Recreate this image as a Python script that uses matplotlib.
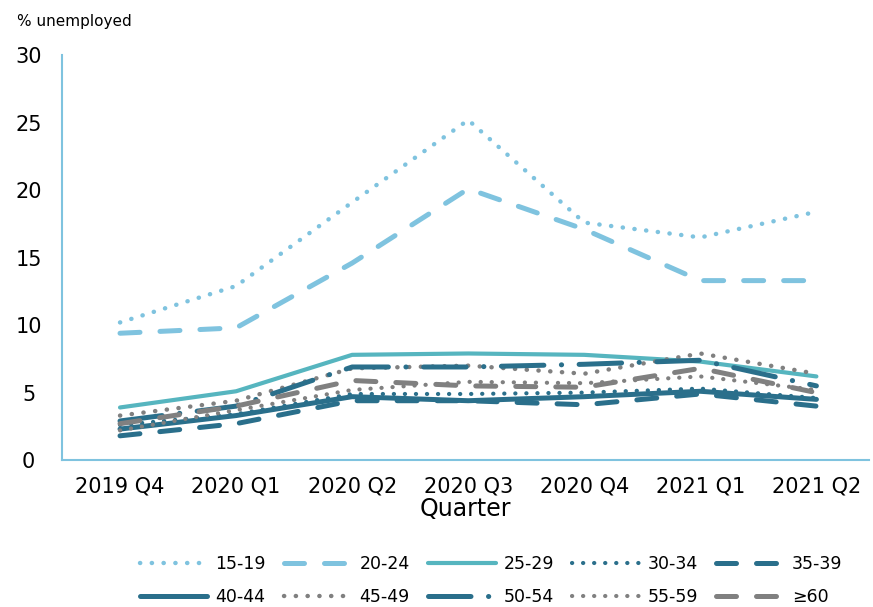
import matplotlib
matplotlib.use("Agg")
import matplotlib.pyplot as plt
import numpy as np

quarters = ['2019 Q4', '2020 Q1', '2020 Q2', '2020 Q3', '2020 Q4', '2021 Q1', '2021 Q2']
age_groups = ['15-19', '20-24', '25-29', '30-34', '35-39',
              '40-44', '45-49', '50-54', '55-59', '\u226560']

u_15_19 = [10.2, 12.9, 19.1, 25.2, 17.6, 16.5, 18.4]
u_20_24 = [9.4, 9.8, 14.6, 20.1, 17.1, 13.3, 13.3]
u_25_29 = [3.9, 5.1, 7.8, 7.9, 7.8, 7.3, 6.2]
u_30_34 = [2.6, 3.4, 4.9, 4.9, 5.0, 5.3, 4.6]
u_35_39 = [1.8, 2.7, 4.4, 4.4, 4.1, 4.9, 4.0]
u_40_44 = [2.3, 3.3, 4.7, 4.4, 4.7, 5.1, 4.5]
u_45_49 = [3.3, 4.4, 6.8, 7.0, 6.4, 7.9, 6.4]
u_50_54 = [2.9, 4.0, 6.9, 6.9, 7.1, 7.4, 5.5]
u_55_59 = [2.2, 3.7, 5.2, 5.8, 5.7, 6.2, 5.2]
u_60_up = [2.7, 4.0, 5.9, 5.5, 5.4, 6.8, 5.0]

series = [u_15_19, u_20_24, u_25_29, u_30_34, u_35_39,
          u_40_44, u_45_49, u_50_54, u_55_59, u_60_up]

light = '#7fc3df'
teal = '#56b5bf'
dark = '#2a6f8b'
grey = '#808080'

dot = (0, (0.05, 2.6))
styles = [
    (light, dot, 3.2),
    (light, (0, (4, 4)), 3.6),
    (teal, '-', 3.0),
    (dark, dot, 3.0),
    (dark, (0, (4, 4)), 3.6),
    (dark, '-', 3.6),
    (grey, dot, 3.2),
    (dark, (0, (8.5, 3.5, 0.05, 3.5)), 3.6),
    (grey, dot, 3.0),
    (grey, (0, (4, 4)), 3.6),
]

fig = plt.figure(figsize=(8.73, 6.07), dpi=100)
ax = fig.add_axes([0.071, 0.242, 0.924, 0.667])

x = np.arange(len(quarters))
handles = []
for vals, lab, (c, ls, lw) in zip(series, age_groups, styles):
    h, = ax.plot(x, vals, color=c, linestyle=ls, linewidth=lw, label=lab,
                 dash_capstyle='round', solid_capstyle='round')
    handles.append(h)

ax.set_xlim(-0.5, 6.45)
ax.set_ylim(0, 30)
ax.set_yticks(range(0, 31, 5))
ax.set_xticks(x)
ax.set_xticklabels(quarters)
ax.tick_params(length=0, labelsize=15)
ax.tick_params(axis='y', pad=24)
for t in ax.get_yticklabels():
    t.set_horizontalalignment('center')
ax.tick_params(axis='x', pad=12)
ax.set_xlabel('Quarter', fontsize=17, labelpad=0)

for s in ['top', 'right']:
    ax.spines[s].set_visible(False)
for s in ['left', 'bottom']:
    ax.spines[s].set_color(light)
    ax.spines[s].set_linewidth(1.5)

fig.text(0.02, 0.965, '% unemployed', fontsize=11, va='center')

# legend filled row by row
order = [0, 5, 1, 6, 2, 7, 3, 8, 4, 9]
fig.legend([handles[i] for i in order], [age_groups[i] for i in order],
           ncol=5, loc='center', bbox_to_anchor=(0.5625, 0.044),
           frameon=False, fontsize=12.5,
           handlelength=3.9, handletextpad=0.45,
           columnspacing=1.05, labelspacing=0.85)

fig.savefig('out.png', dpi=100)
